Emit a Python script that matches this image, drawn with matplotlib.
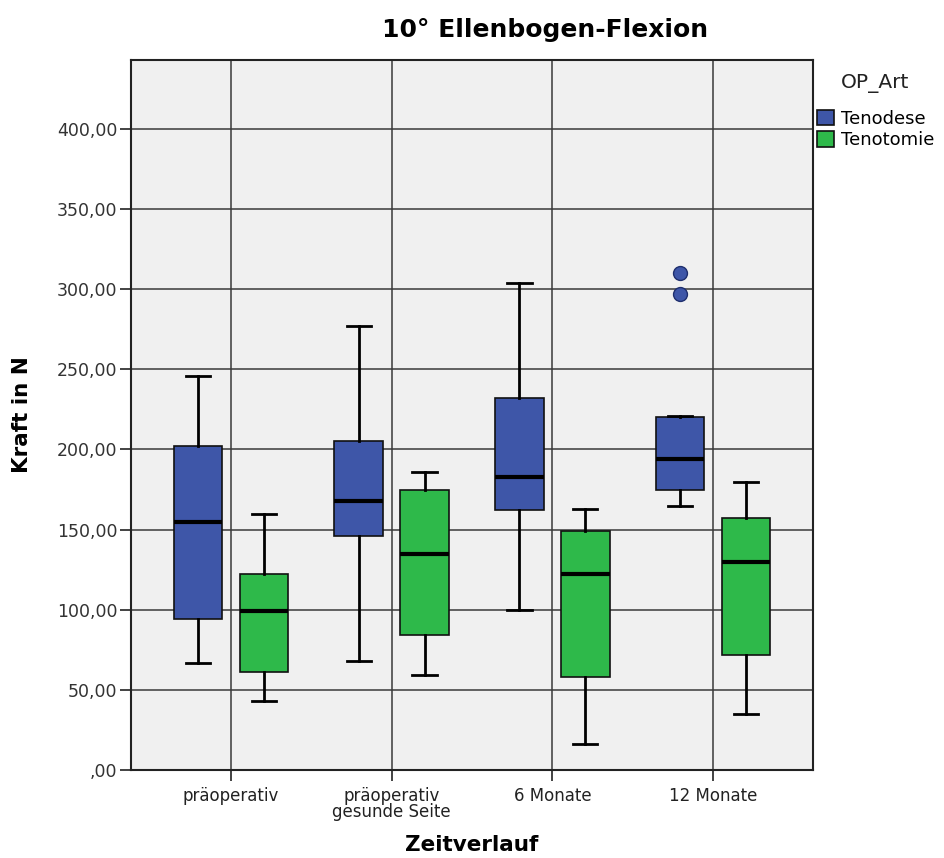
import matplotlib
matplotlib.use("Agg")
import matplotlib.pyplot as plt
from matplotlib.patches import Patch

zeitpunkte = ["präoperativ", "präoperativ\ngesunde Seite", "6 Monate", "12 Monate"]
gruppen = ["Tenodese", "Tenotomie"]

tenodese_whislo = [67, 68, 100, 165]
tenodese_q1 = [94, 146, 162, 175]
tenodese_med = [155, 168, 183, 194]
tenodese_q3 = [202, 205, 232, 220]
tenodese_whishi = [246, 277, 304, 221]
tenodese_fliers = [[], [], [], [297, 310]]

tenotomie_whislo = [43, 59, 16, 35]
tenotomie_q1 = [61, 84, 58, 72]
tenotomie_med = [99, 135, 122, 130]
tenotomie_q3 = [122, 175, 149, 157]
tenotomie_whishi = [160, 186, 163, 180]
tenotomie_fliers = [[], [], [], []]

y_ticks = [0, 50, 100, 150, 200, 250, 300, 350, 400]

farben = {"Tenodese": "#3e56a8", "Tenotomie": "#2eb94a"}
flier_kanten = {"Tenodese": "#1f2f6e", "Tenotomie": "#156b28"}


def stats(lo, q1, med, q3, hi, fl):
    return [dict(whislo=a, q1=b, med=c, q3=d, whishi=e, fliers=f)
            for a, b, c, d, e, f in zip(lo, q1, med, q3, hi, fl)]


def spss_zahl(v):
    # SPSS schreibt 0 als ",00"
    s = f"{v:.2f}".replace(".", ",")
    return s[1:] if v == 0 else s


daten = {
    "Tenodese": stats(tenodese_whislo, tenodese_q1, tenodese_med,
                      tenodese_q3, tenodese_whishi, tenodese_fliers),
    "Tenotomie": stats(tenotomie_whislo, tenotomie_q1, tenotomie_med,
                       tenotomie_q3, tenotomie_whishi, tenotomie_fliers),
}

fig = plt.figure(figsize=(9.44, 8.58), dpi=100)
ax = fig.add_axes([0.1388, 0.1026, 0.7224, 0.8274])
ax.set_facecolor("#f0f0f0")

# Gitter an Kategorien und y-Ticks
ax.set_axisbelow(True)
ax.grid(True, color="#3a3a3a", linewidth=1.1)

offset = 0.205
for k, gruppe in enumerate(gruppen):
    pos = [i + (offset if k else -offset) for i in range(len(zeitpunkte))]
    ax.bxp(daten[gruppe], positions=pos, widths=0.30, patch_artist=True,
           showfliers=True, capwidths=0.15, manage_ticks=False,
           boxprops=dict(facecolor=farben[gruppe], edgecolor="#111111", linewidth=1.2),
           medianprops=dict(color="black", linewidth=3),
           whiskerprops=dict(color="black", linewidth=2),
           capprops=dict(color="black", linewidth=2),
           flierprops=dict(marker="o", markersize=10, markerfacecolor=farben[gruppe],
                           markeredgecolor=flier_kanten[gruppe], markeredgewidth=1))

ax.set_xlim(-0.62, 3.62)
ax.set_ylim(0, 443)
ax.set_xticks(range(len(zeitpunkte)))
ax.set_xticklabels(zeitpunkte, fontsize=12, color="#222222", linespacing=0.85)
ax.set_yticks(y_ticks)
ax.set_yticklabels([spss_zahl(v) for v in y_ticks], fontsize=12.5, color="#333333")
ax.tick_params(axis="both", direction="out", length=8, width=1.2, color="#222222")
ax.tick_params(axis="y", pad=2)
ax.tick_params(axis="x", pad=4)
for s in ax.spines.values():
    s.set_color("#222222")
    s.set_linewidth(1.5)

ax.set_ylabel("Kraft in N", fontsize=15.5, fontweight="bold")
ax.yaxis.set_label_coords(-0.16, 0.5)
ax.yaxis.label.set_va("center")
ax.set_xlabel("Zeitverlauf", fontsize=15.5, fontweight="bold")
ax.xaxis.set_label_coords(0.5, -0.106)
ax.xaxis.label.set_va("center")

fig.text(0.577, 0.965, "10° Ellenbogen-Flexion", fontsize=18, fontweight="bold",
         ha="center", va="center")

handles = [Patch(facecolor=farben[g], edgecolor="#111111", linewidth=1.2, label=g) for g in gruppen]
leg = fig.legend(handles=handles, title="OP_Art", loc="upper left",
                 bbox_to_anchor=(0.8655, 0.915), frameon=False, fontsize=13,
                 title_fontsize=14.5, handlelength=0.95, handleheight=0.95,
                 handletextpad=0.35, labelspacing=0.2, borderpad=0, borderaxespad=0)
leg.get_title().set_color("#222222")
leg._legend_box.sep = 12

fig.savefig("out.png", dpi=100, facecolor="white")
